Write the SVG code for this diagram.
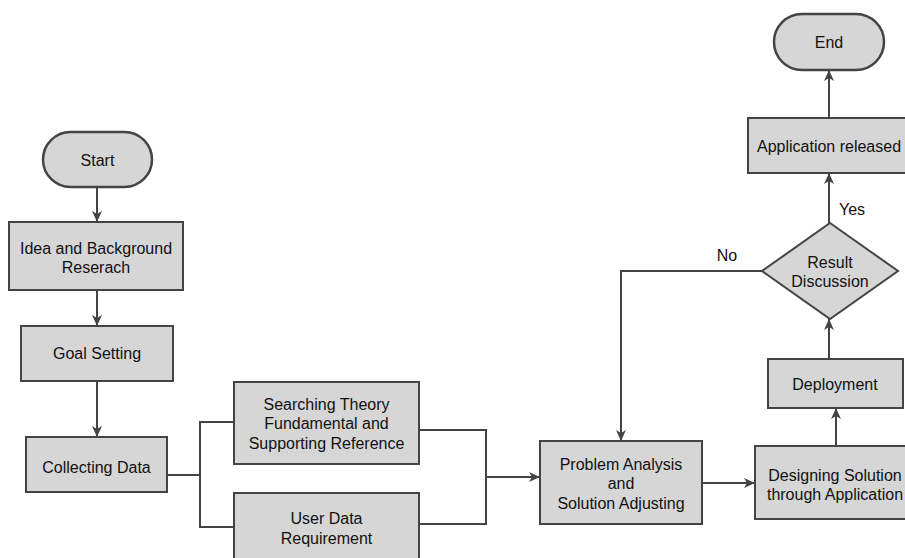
<svg xmlns="http://www.w3.org/2000/svg" width="905" height="558" viewBox="0 0 905 558">
<style>
.box{fill:#d6d6d6;stroke:#444;stroke-width:2}
.t{font-family:"Liberation Sans",Arial,sans-serif;font-size:16px;fill:#111;text-anchor:middle}
.c{fill:none;stroke:#444;stroke-width:2}
.a{marker-end:url(#ah)}
</style>
<defs>
<marker id="ah" markerUnits="userSpaceOnUse" markerWidth="12" markerHeight="10" refX="11" refY="5" orient="auto">
<path d="M0,0 L11,5 L0,10 L3,5 z" fill="#444"/>
</marker>
</defs>
<rect width="905" height="558" fill="#fff"/>
<g id="connectors">
<line class="c a" x1="97" y1="187" x2="97" y2="222"/>
<line class="c a" x1="97" y1="290" x2="97" y2="326"/>
<line class="c a" x1="97" y1="381" x2="97" y2="437"/>
<polyline class="c" points="167,475 200,475"/>
<polyline class="c" points="234,422 200,422 200,527 234,527"/>
<polyline class="c" points="419,430 486,430 486,524 419,524"/>
<line class="c a" x1="486" y1="477" x2="540" y2="477"/>
<line class="c a" x1="702" y1="483" x2="755" y2="483"/>
<line class="c a" x1="836" y1="446" x2="836" y2="408"/>
<line class="c a" x1="829" y1="359" x2="829" y2="319"/>
<polyline class="c a" points="762,271 621,271 621,441"/>
<line class="c a" x1="829" y1="223" x2="829" y2="173"/>
<line class="c a" x1="829" y1="118" x2="829" y2="70"/>
<text class="t" x="727" y="261">No</text>
<text class="t" x="852" y="215">Yes</text>
</g>
<g id="start">
<rect class="box" x="43" y="132" width="109" height="55" rx="27.5" style="stroke-width:2.5"/>
<text class="t" x="97.5" y="166">Start</text>
</g>
<g id="idea">
<rect class="box" x="9" y="222" width="174" height="68"/>
<text class="t" x="96" y="254">Idea and Background</text>
<text class="t" x="96" y="273">Reserach</text>
</g>
<g id="goal">
<rect class="box" x="21" y="326" width="152" height="55"/>
<text class="t" x="97" y="359">Goal Setting</text>
</g>
<g id="collecting">
<rect class="box" x="26" y="437" width="141" height="55"/>
<text class="t" x="96.5" y="473">Collecting Data</text>
</g>
<g id="searching">
<rect class="box" x="234" y="382" width="185" height="82"/>
<text class="t" x="326.5" y="410">Searching Theory</text>
<text class="t" x="326.5" y="429">Fundamental and</text>
<text class="t" x="326.5" y="449">Supporting Reference</text>
</g>
<g id="userdata">
<rect class="box" x="234" y="493" width="185" height="82"/>
<text class="t" x="326.5" y="524">User Data</text>
<text class="t" x="326.5" y="544">Requirement</text>
</g>
<g id="problem">
<rect class="box" x="540" y="441" width="162" height="83"/>
<text class="t" x="621" y="470">Problem Analysis</text>
<text class="t" x="621" y="489">and</text>
<text class="t" x="621" y="509">Solution Adjusting</text>
</g>
<g id="designing">
<rect class="box" x="755" y="446" width="160" height="73"/>
<text class="t" x="835" y="481">Designing Solution</text>
<text class="t" x="835" y="500">through Application</text>
</g>
<g id="deployment">
<rect class="box" x="768" y="359" width="135" height="49"/>
<text class="t" x="835" y="390">Deployment</text>
</g>
<g id="result">
<polygon class="box" points="830,223 898,271 830,319 762,271"/>
<text class="t" x="830" y="268">Result</text>
<text class="t" x="830" y="287">Discussion</text>
</g>
<g id="released">
<rect class="box" x="748" y="118" width="162" height="55"/>
<text class="t" x="829" y="152">Application released</text>
</g>
<g id="end">
<rect class="box" x="774" y="14" width="110" height="56" rx="28" style="stroke-width:2.5"/>
<text class="t" x="829" y="48">End</text>
</g>
</svg>
